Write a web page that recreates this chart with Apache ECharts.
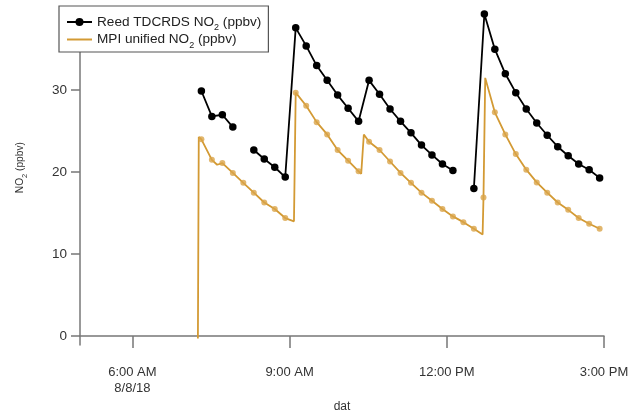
<!DOCTYPE html>
<html><head><meta charset="utf-8">
<script src="https://cdn.jsdelivr.net/npm/echarts@6/dist/echarts.min.js"></script>
<style>html,body{margin:0;padding:0;background:#fff}#c{width:637px;height:418px}</style>
</head><body><div id="c"></div>
<script>
// Reed TDCRDS NO2 (ppbv), null = missing sample
const reedTimes = ['7:19','7:31','7:43','7:55','8:07','8:19','8:31','8:43','8:55','9:07','9:19','9:31','9:43','9:55','10:07','10:19','10:31','10:43','10:55','11:07','11:19','11:31','11:43','11:55','12:07','12:19','12:31','12:43','12:55','13:07','13:19','13:31','13:43','13:55','14:07','14:19','14:31','14:43','14:55'];
const reedValues = [29.9,26.8,27.0,25.5,null,22.7,21.6,20.6,19.4,37.6,35.4,33.0,31.2,29.4,27.8,26.2,31.2,29.5,27.7,26.2,24.8,23.3,22.1,21.0,20.2,null,18.0,39.3,35.0,32.0,29.7,27.7,26.0,24.5,23.1,22.0,21.0,20.3,19.3];
// MPI unified NO2 (ppbv): sampled markers
const mpiMarkerTimes = ['7:19','7:31','7:43','7:55','8:07','8:19','8:31','8:43','8:55','9:07','9:19','9:31','9:43','9:55','10:07','10:19','10:31','10:43','10:55','11:07','11:19','11:31','11:43','11:55','12:07','12:19','12:31','12:42','12:55','13:07','13:19','13:31','13:43','13:55','14:07','14:19','14:31','14:43','14:55'];
const mpiMarkerValues = [24.0,21.5,21.1,19.9,18.7,17.5,16.3,15.5,14.4,29.7,28.1,26.1,24.6,22.7,21.4,20.1,23.7,22.7,21.3,19.9,18.7,17.5,16.5,15.5,14.6,13.9,13.1,16.9,27.3,24.6,22.2,20.3,18.75,17.5,16.3,15.4,14.4,13.7,13.1];
// MPI unified NO2 (ppbv): extra line vertices between markers
const mpiExtraTimes = ['7:15','7:16','7:37','9:05','10:22','10:25','12:41','12:44'];
const mpiExtraValues = [-0.3,24.3,20.9,14.0,19.8,24.6,12.4,31.5];
// axis ticks
const xTickHours = [6, 9, 12, 15];
const xTickLabels = ['6:00 AM\n8/8/18', '9:00 AM', '12:00 PM', '3:00 PM'];
const yTickValues = [0, 10, 20, 30];

function toHours(s){ const p = s.split(':').map(Number); return p[0] + p[1]/60; }
const reedData = reedTimes.map((t,i)=>[toHours(t), reedValues[i]]);
const mpiMarkers = mpiMarkerTimes.map((t,i)=>[toHours(t), mpiMarkerValues[i]]);
const mpiLine = mpiMarkers.concat(mpiExtraTimes.map((t,i)=>[toHours(t), mpiExtraValues[i]])).sort((a,b)=>a[0]-b[0]);

const FONT = '"Liberation Sans", Arial, Helvetica, sans-serif';
const AXIS = '#777777';
const TXT = '#333333';
const ORANGE = '#D39A34';

const chart = echarts.init(document.getElementById('c'), null, {renderer:'canvas'});
chart.setOption({
  animation: false,
  backgroundColor: '#ffffff',
  textStyle: {fontFamily: FONT},
  grid: {left: 80, right: 33, top: 8.2, bottom: 72.3, containLabel: false},
  legend: {
    left: 59, top: 6, orient: 'vertical',
    backgroundColor: '#ffffff', borderColor: '#555555', borderWidth: 1.2, borderRadius: 0,
    padding: [9, 7, 2, 7], itemWidth: 25, itemHeight: 10, itemGap: 0,
    data: [{name: 'reed'}, {name: 'mpi', itemStyle: {opacity: 0}}],
    formatter: function(n){
      return n === 'reed' ? '{m|Reed TDCRDS NO}{s|2}{m| (ppbv)}' : '{m|MPI unified NO}{s|2}{m| (ppbv)}';
    },
    textStyle: {
      color: '#222', fontFamily: FONT,
      rich: {
        m: {fontSize: 13.6, fontFamily: FONT, color: '#222', lineHeight: 15},
        s: {fontSize: 9, fontFamily: FONT, color: '#222', verticalAlign: 'bottom', lineHeight: 10, padding: [0,0,-3,0]}
      }
    }
  },
  xAxis: {
    type: 'value', min: 5, max: 15,
    name: 'dat', nameLocation: 'middle', nameGap: 53,
    nameTextStyle: {fontSize: 12, color: TXT, fontFamily: FONT},
    axisLine: {show: true, lineStyle: {color: AXIS, width: 1.5}},
    axisTick: {show: true, customValues: xTickHours, length: 12, lineStyle: {color: AXIS, width: 1.5}},
    axisLabel: {customValues: xTickHours, color: TXT, fontSize: 13, fontFamily: FONT, margin: 19, lineHeight: 16,
      formatter: function(v){ const i = xTickHours.indexOf(Math.round(v)); return i >= 0 ? xTickLabels[i] : ''; }},
    splitLine: {show: false}
  },
  yAxis: {
    type: 'value', min: -1.1, max: 40,
    name: '{m|NO}{s|2}{m| (ppbv)}', nameLocation: 'middle', nameGap: 54, nameRotate: 90,
    nameTextStyle: {color: TXT, fontFamily: FONT, padding: [0, 0, 0, 18],
      rich: {m: {fontSize: 10.2, color: TXT, fontFamily: FONT, lineHeight: 12},
             s: {fontSize: 7.5, color: TXT, fontFamily: FONT, verticalAlign: 'bottom', lineHeight: 8, padding: [0,0,-3,0]}}},
    axisLine: {show: true, lineStyle: {color: AXIS, width: 1.5}},
    axisTick: {show: true, customValues: yTickValues, length: 9, lineStyle: {color: AXIS, width: 1.5}},
    axisLabel: {customValues: yTickValues, color: TXT, fontSize: 13.5, fontFamily: FONT, margin: 13},
    splitLine: {show: false}
  },
  series: [
    {name: 'reed', type: 'line', data: reedData, connectNulls: false,
     symbol: 'circle', symbolSize: 7.5, showSymbol: true,
     lineStyle: {color: '#000', width: 1.8}, itemStyle: {color: '#000'}, z: 3},
    {name: 'mpi', type: 'line', data: mpiLine, symbol: 'none',
     lineStyle: {color: ORANGE, width: 1.8}, itemStyle: {color: ORANGE}, z: 4},
    {name: 'mpiMarkers', type: 'scatter', data: mpiMarkers, symbol: 'circle', symbolSize: 6,
     itemStyle: {color: '#D9A448'}, z: 5}
  ]
});
</script></body></html>
